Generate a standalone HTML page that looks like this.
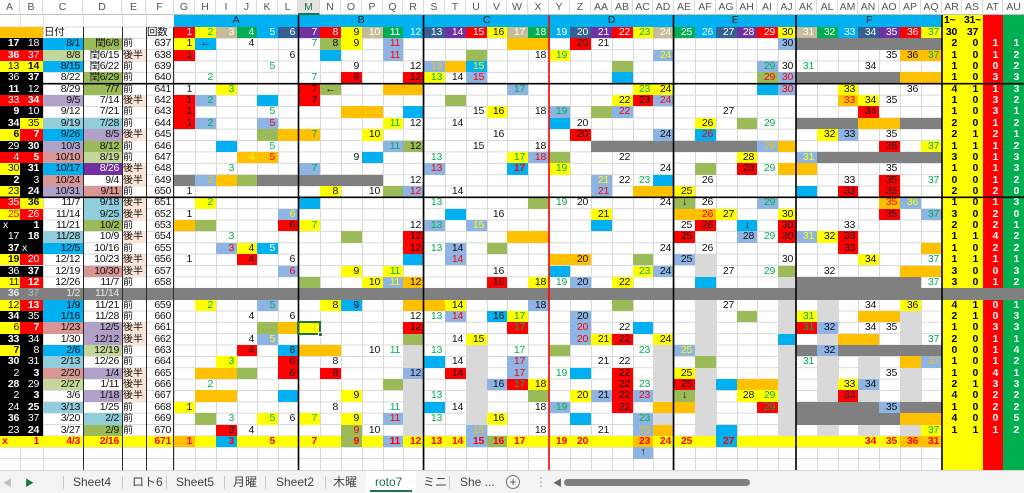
<!DOCTYPE html>
<html><head><meta charset="utf-8"><style>
*{margin:0;padding:0;box-sizing:border-box}
html,body{width:1024px;height:493px;overflow:hidden;background:#fff}
body{position:relative;font-family:"Liberation Sans","Noto Sans CJK JP",sans-serif}
.abs{position:absolute}
.row{position:absolute;left:0;width:1024px;height:11.36px}
.row i{position:absolute;top:0;height:100%;line-height:11.6px;font-style:normal;font-size:10.5px;letter-spacing:-0.3px;text-align:right;padding-right:3px;white-space:nowrap;overflow:hidden;color:#111;font-family:"Liberation Sans","Noto Sans CJK JP",sans-serif}
.xA{left:0;width:20px}.xB{left:20px;width:23px}.xC{left:43px;width:40px}.xD{left:83px;width:39px}.xE{left:122px;width:24px}.xF{left:146px;width:28px}
.xG{left:174px;width:21px}.xH{left:195px;width:21px}.xI{left:216px;width:21px}.xJ{left:237px;width:20px}.xK{left:257px;width:21px}.xL{left:278px;width:20px}
.xM{left:298px;width:22px}.xN{left:320px;width:21px}.xO{left:341px;width:21px}.xP{left:362px;width:21px}.xQ{left:383px;width:20px}.xR{left:403px;width:21px}
.xS{left:424px;width:21px}.xT{left:445px;width:21px}.xU{left:466px;width:21px}.xV{left:487px;width:20px}.xW{left:507px;width:21px}.xX{left:528px;width:21px}
.xY{left:549px;width:21px}.xZ{left:570px;width:21px}.xAA{left:591px;width:21px}.xAB{left:612px;width:21px}.xAC{left:633px;width:20px}.xAD{left:653px;width:21px}
.xAE{left:674px;width:21px}.xAF{left:695px;width:21px}.xAG{left:716px;width:21px}.xAH{left:737px;width:20px}.xAI{left:757px;width:21px}.xAJ{left:778px;width:18px}
.xAK{left:796px;width:21px}.xAL{left:817px;width:21px}.xAM{left:838px;width:20px}.xAN{left:858px;width:21px}.xAO{left:879px;width:21px}.xAP{left:900px;width:21px}.xAQ{left:921px;width:21px}
.xAR{left:942px;width:20px}.xAS{left:962px;width:21px}.xAT{left:983px;width:20px}.xAU{left:1003px;width:21px}
.row .xA{padding-right:1px}.row .xB{padding-right:4px}
.row .xE{text-align:left;padding:0 0 0 1px;font-size:10px;letter-spacing:0}
.row .c{text-align:center;padding:0}
.row .fR{background:#ff0000}.row .fY{background:#ffff00}.row .fO{background:#ffc000}.row .fG{background:#9bbb59}.row .fS{background:#00b0f0}.row .fL{background:#8db4e2}.row .fD{background:#808080}.row .fW{background:#d9d9d9}.row .fK{background:#000}.row .fT{background:#c4bd97}.row .fDG{background:#00b050}.row .fSL{background:#366092}.row .fP{background:#7030a0}.row .fLP{background:#b1a0c7}.row .fRO{background:#da9694}.row .fLG{background:#c4d79b}.row .fTE{background:#92cddc}.row .fPE{background:#fce4d6}
.row .tg{color:#00b050}.row .tr{color:#ff0000}.row .to{color:#ffc000}.row .ty{color:#ffff00}.row .tw{color:#fff}.row .b{font-weight:bold}
.row .xAR,.row .xAS{font-weight:bold;padding-right:5px;color:#000}.row .xAT,.row .xAU{font-weight:bold;color:#fff;padding-right:5px}
.hd{position:absolute;top:0;left:0;width:1024px;height:15px;background:#fff;border-bottom:1px solid #c0c0c0}
.hd i{position:absolute;top:0;height:15px;line-height:15px;font-style:normal;font-size:10.5px;color:#555;text-align:center;border-right:1px solid #dadada}
.tab{position:absolute;top:470px;left:0;width:1024px;height:23px;background:#f3f3f3;border-top:1px solid #d4d4d4;font-size:12px;color:#444}
.tab span{position:absolute;top:4px;line-height:15px;white-space:nowrap;font-family:"Liberation Sans","Noto Sans CJK JP",sans-serif}
.tab b{position:absolute;top:5px;width:1px;height:13px;background:#c8c8c8}
</style></head><body>

<!-- right colored stripes -->
<div class="abs" style="left:942px;top:15px;width:41px;height:455px;background:#ffff00"></div>
<div class="abs" style="left:983px;top:15px;width:20px;height:455px;background:#ff0000"></div>
<div class="abs" style="left:1003px;top:15px;width:21px;height:455px;background:#00b050"></div>

<!-- gridlines -->
<svg class="abs" style="left:0;top:0" width="1024" height="493">
<path fill="none" stroke="#d9d9d9" stroke-width="1" d="M20.5 15V470M43.5 15V470M83.5 15V470M122.5 15V470M146.5 15V470M174.5 15V470M195.5 15V470M216.5 15V470M237.5 15V470M257.5 15V470M278.5 15V470M298.5 15V470M320.5 15V470M341.5 15V470M362.5 15V470M383.5 15V470M403.5 15V470M424.5 15V470M445.5 15V470M466.5 15V470M487.5 15V470M507.5 15V470M528.5 15V470M549.5 15V470M570.5 15V470M591.5 15V470M612.5 15V470M633.5 15V470M653.5 15V470M674.5 15V470M695.5 15V470M716.5 15V470M737.5 15V470M757.5 15V470M778.5 15V470M796.5 15V470M817.5 15V470M838.5 15V470M858.5 15V470M879.5 15V470M900.5 15V470M921.5 15V470
M0 27H942M0 38.3H942M0 49.66H942M0 61.02H942M0 72.38H942M0 83.74H942M0 95.1H942M0 106.46H942M0 117.82H942M0 129.18H942M0 140.54H942M0 151.9H942M0 163.26H942M0 174.62H942M0 185.98H942M0 197.34H942M0 208.7H942M0 220.06H942M0 231.42H942M0 242.78H942M0 254.14H942M0 265.5H942M0 276.86H942M0 288.22H942M0 299.58H942M0 310.94H942M0 322.3H942M0 333.66H942M0 345.02H942M0 356.38H942M0 367.74H942M0 379.1H942M0 390.46H942M0 401.82H942M0 413.18H942M0 424.54H942M0 435.9H942M0 447.26H942M0 458.62H942"/>
</svg>

<!-- header row 1 -->
<div class="row" style="top:15px;height:12px">
<i class="fS" style="left:174px;width:768px"></i>
<i class="c" style="left:174px;width:124px;color:#222">A</i><i class="c" style="left:298px;width:126px;color:#222">B</i><i class="c" style="left:424px;width:125px;color:#222">C</i><i class="c" style="left:549px;width:125px;color:#222">D</i><i class="c" style="left:674px;width:122px;color:#222">E</i><i class="c" style="left:796px;width:146px;color:#222">F</i>
<i class="xAR" style="text-align:left;padding-left:2px">1~</i><i class="xAS" style="text-align:left;padding-left:2px">31~</i>
</div>
<!-- header row 2 -->
<div class="row" style="top:27px;height:11.3px">
<i class="fO" style="left:0;width:43px"></i>
<i class="xC" style="text-align:left;padding-left:1px;font-size:10.5px">日付</i><i class="xF" style="text-align:left;padding-left:1px;font-size:10.5px">回数</i>
<i class="xG fR tw">1</i><i class="xH fY tg">2</i><i class="xI fT tw">3</i><i class="xJ fDG tw">4</i><i class="xK fS tw">5</i><i class="xL fSL tw">6</i>
<i class="xM fP tw">7</i><i class="xN fR tw">8</i><i class="xO fY">9</i><i class="xP fT tw">10</i><i class="xQ fDG tw">11</i><i class="xR fS tw">12</i>
<i class="xS fSL tw">13</i><i class="xT fP tw">14</i><i class="xU fR tw">15</i><i class="xV fY">16</i><i class="xW fT tw">17</i><i class="xX fDG tw">18</i>
<i class="xY fS tw">19</i><i class="xZ fSL tw">20</i><i class="xAA fP tw">21</i><i class="xAB fR tw">22</i><i class="xAC fY tg">23</i><i class="xAD fT tw">24</i>
<i class="xAE fDG tw">25</i><i class="xAF fS tw">26</i><i class="xAG fSL tw">27</i><i class="xAH fP tw">28</i><i class="xAI fR tw">29</i><i class="xAJ fY">30</i>
<i class="xAK fT tw">31</i><i class="xAL fDG tw">32</i><i class="xAM fS tw">33</i><i class="xAN fSL tw">34</i><i class="xAO fP tw">35</i><i class="xAP fR tw">36</i><i class="xAQ fY tg">37</i>
<i class="xAR">30</i><i class="xAS">37</i>
</div>

<!-- 637 -->
<div class="row" style="top:38.3px">
<i class="xA fK tw b">17</i><i class="xB fK tw">18</i><i class="xC fS">8/1</i><i class="xD fG">閏6/8</i><i class="xE">前</i><i class="xF">637</i>
<i class="xG fY">1</i><i class="xH fS c">←</i><i class="xJ">4</i><i class="xM tg">7</i><i class="xN fG">8</i><i class="xO fY">9</i><i class="xQ fL tr">11</i>
<i class="fO" style="left:507px;width:42px"></i><i class="xZ fR">20</i><i class="xAA">21</i><i class="xAJ fL">30</i><i class="fD" style="left:796px;width:146px"></i>
<i class="xAR">2</i><i class="xAS">0</i><i class="xAT">1</i><i class="xAU">1</i>
</div>
<!-- 638 -->
<div class="row" style="top:49.66px">
<i class="xA fR tw b">36</i><i class="xB fR tw">37</i><i class="xC fLG">8/8</i><i class="xD">閏6/15</i><i class="xE fPE">後半</i><i class="xF">638</i>
<i class="xG fR">1</i><i class="xL">6</i><i class="xN fS"></i><i class="xQ fL tr">11</i><i class="xU fG"></i><i class="xX">18</i><i class="xY fY tg">19</i><i class="xAD fL ty">24</i>
<i class="xAO">35</i><i class="xAP fO">36</i><i class="xAQ fO tg">37</i>
<i class="xAR">1</i><i class="xAS">0</i><i class="xAT">1</i><i class="xAU">2</i>
</div>
<!-- 639 -->
<div class="row" style="top:61.02px">
<i class="xA fY">13</i><i class="xB fY b">14</i><i class="xC fS">8/15</i><i class="xD">閏6/22</i><i class="xE">前</i><i class="xF">639</i>
<i class="xK tg">5</i><i class="xO">9</i><i class="xR">12</i><i class="xS fL to">13</i><i class="xT fO"></i><i class="xU fS ty">15</i><i class="xAB fG"></i>
<i class="xAI fL tg">29</i><i class="xAJ">30</i><i class="xAK tg">31</i><i class="xAN">34</i>
<i class="xAR">1</i><i class="xAS">0</i><i class="xAT">0</i><i class="xAU">2</i>
</div>
<!-- 640 -->
<div class="row" style="top:72.38px">
<i class="xA fK tw">36</i><i class="xB fK tw b">37</i><i class="xC">8/22</i><i class="xD fG">閏6/29</i><i class="xE">前</i><i class="xF">640</i>
<i class="xH tg">2</i><i class="xM tg">7</i><i class="xO fR">9</i><i class="xR fR">12</i><i class="xS fY tg">13</i><i class="xT">14</i><i class="xU fL tr">15</i><i class="xAB fS"></i>
<i class="xAI fG tr">29</i><i class="xAJ fL tr">30</i><i class="fD" style="left:796px;width:104px"></i><i class="fO" style="left:900px;width:42px"></i>
<i class="xAR">1</i><i class="xAS">0</i><i class="xAT">3</i><i class="xAU">3</i>
</div>
<!-- 641 -->
<div class="row" style="top:83.74px">
<i class="xA fK tw b">11</i><i class="xB fK tw">12</i><i class="xC">8/29</i><i class="xD fG">7/7</i><i class="xE">前</i><i class="xF">641</i>
<i class="xG">1</i><i class="xI fY tg">3</i><i class="xM fR">7</i><i class="xN fG c">←</i><i class="fO" style="left:383px;width:41px"></i><i class="xW fL tg">17</i>
<i class="xAC fY tg">23</i><i class="xAD fY">24</i><i class="xAI fS"></i><i class="xAJ fL tr">30</i><i class="xAM fY">33</i><i class="xAP">36</i>
<i class="xAR">4</i><i class="xAS">1</i><i class="xAT">1</i><i class="xAU">3</i>
</div>
<!-- 642 -->
<div class="row" style="top:95.1px">
<i class="xA fR tw">33</i><i class="xB fR tw b">34</i><i class="xC fLP">9/5</i><i class="xD">7/14</i><i class="xE fPE">後半</i><i class="xF">642</i>
<i class="xG fR">1</i><i class="xH fL tg">2</i><i class="xK fS"></i><i class="xM fR">7</i><i class="xT fG"></i><i class="xAB fY">22</i><i class="xAC fR">23</i><i class="xAD fL tr">24</i>
<i class="xAM fO tr">33</i><i class="xAN fY">34</i><i class="xAO">35</i>
<i class="xAR">1</i><i class="xAS">0</i><i class="xAT">3</i><i class="xAU">2</i>
</div>
<!-- 643 -->
<div class="row" style="top:106.46px">
<i class="xA fK tw b">9</i><i class="xB fK tw">10</i><i class="xC">9/12</i><i class="xD">7/21</i><i class="xE">前</i><i class="xF">643</i>
<i class="xG fR">1</i><i class="xK tg">5</i><i class="fO" style="left:341px;width:42px"></i><i class="xR fS"></i><i class="xU">15</i><i class="xV fY">16</i><i class="xX">18</i>
<i class="xY fL tg">19</i><i class="xAA fG"></i><i class="xAB fL tr">22</i><i class="xAG">27</i><i class="xAN fR">34</i>
<i class="xAR">1</i><i class="xAS">0</i><i class="xAT">3</i><i class="xAU">1</i>
</div>
<!-- 644 -->
<div class="row" style="top:117.82px">
<i class="xA fK tw b">34</i><i class="xB fY">35</i><i class="xC fTE">9/19</i><i class="xD fTE">7/28</i><i class="xE">前</i><i class="xF">644</i>
<i class="xG fR">1</i><i class="xH fL tg">2</i><i class="xK fL tr">5</i><i class="xQ fY tg">11</i><i class="xR">12</i><i class="xT">14</i><i class="xY fS"></i><i class="xZ">20</i>
<i class="xAF fY">26</i><i class="xAH fG"></i><i class="xAI tg">29</i><i class="fD" style="left:796px;width:62px"></i><i class="fO" style="left:858px;width:42px"></i><i class="fD" style="left:900px;width:42px"></i>
<i class="xAR">2</i><i class="xAS">0</i><i class="xAT">1</i><i class="xAU">2</i>
</div>
<!-- 645 -->
<div class="row" style="top:129.18px">
<i class="xA fY b">6</i><i class="xB fR tw b">7</i><i class="xC fS">9/26</i><i class="xD fLP">8/5</i><i class="xE fPE">後半</i><i class="xF">645</i>
<i class="xK fG"></i><i class="xL fO"></i><i class="xM fO tg">7</i><i class="xP fY">10</i><i class="xV">16</i><i class="xZ fR">20</i><i class="xAD fL">24</i><i class="xAF fS tr">26</i>
<i class="xAL fY">32</i><i class="xAM fL">33</i><i class="xAO">35</i>
<i class="xAR">2</i><i class="xAS">1</i><i class="xAT">2</i><i class="xAU">1</i>
</div>
<!-- 646 -->
<div class="row" style="top:140.54px">
<i class="xA fK tw">29</i><i class="xB fK tw b">30</i><i class="xC fLP">10/3</i><i class="xD fG">8/12</i><i class="xE">前</i><i class="xF">646</i>
<i class="xI fS"></i><i class="xK tg">5</i><i class="xQ fL tg">11</i><i class="xR fG">12</i><i class="xU">15</i><i class="xX">18</i><i class="fD" style="left:591px;width:166px"></i>
<i class="xAI fL to">29</i><i class="xAJ fO"></i><i class="xAO fR">35</i><i class="xAQ fY tg">37</i>
<i class="xAR">1</i><i class="xAS">1</i><i class="xAT">1</i><i class="xAU">2</i>
</div>
<!-- 647 -->
<div class="row" style="top:151.9px">
<i class="xA fR tw">4</i><i class="xB fR tw b">5</i><i class="xC fRO">10/10</i><i class="xD fLG">8/19</i><i class="xE">前</i><i class="xF">647</i>
<i class="xJ fO ty">4</i><i class="xK fO tr">5</i><i class="xO">9</i><i class="xP fS"></i><i class="xS tg">13</i><i class="xW fY tg">17</i><i class="xX fL tr">18</i><i class="xY fG"></i><i class="xAB">22</i>
<i class="xAH fY">28</i><i class="xAK fL ty">31</i><i class="fD" style="left:817px;width:125px"></i>
<i class="xAR">3</i><i class="xAS">0</i><i class="xAT">1</i><i class="xAU">3</i>
</div>
<!-- 648 -->
<div class="row" style="top:163.26px">
<i class="xA fY">30</i><i class="xB fK tw b">31</i><i class="xC fS">10/17</i><i class="xD fP tw">8/26</i><i class="xE fPE">後半</i><i class="xF">648</i>
<i class="xI tg">3</i><i class="xM fL tg">7</i><i class="xS fL tr">13</i><i class="xW fS tr b">17</i><i class="xY fY tg">19</i><i class="xAD">24</i><i class="xAF fG"></i><i class="xAH fR">28</i><i class="xAI tg">29</i>
<i class="xAJ fO"></i><i class="xAK fO"></i><i class="xAO">35</i>
<i class="xAR">1</i><i class="xAS">0</i><i class="xAT">1</i><i class="xAU">3</i>
</div>
<!-- 649 -->
<div class="row" style="top:174.62px">
<i class="xA fK tw b">2</i><i class="xB fK tw">3</i><i class="xC fRO">10/24</i><i class="xD">9/4</i><i class="xE fPE">後半</i><i class="xF">649</i>
<i class="xG fD"></i><i class="xH fL to">2</i><i class="xI fO"></i><i class="xJ fG"></i><i class="fD" style="left:257px;width:126px"></i><i class="xR">12</i>
<i class="xAA fL ty">21</i><i class="xAB">22</i><i class="xAC tg">23</i><i class="xAD fS"></i><i class="xAF">26</i><i class="xAM">33</i><i class="xAO fR">35</i><i class="xAQ tg">37</i>
<i class="xAR">0</i><i class="xAS">0</i><i class="xAT">1</i><i class="xAU">2</i>
</div>
<!-- 650 -->
<div class="row" style="top:185.98px">
<i class="xA fY">23</i><i class="xB fK tw b">24</i><i class="xC fLP">10/31</i><i class="xD fRO">9/11</i><i class="xE">前</i><i class="xF">650</i>
<i class="xG">1</i><i class="xN fY">8</i><i class="xP">10</i><i class="xQ fG"></i><i class="xR fL tr">12</i><i class="xT">14</i><i class="xAA fL tr">21</i><i class="fO" style="left:633px;width:41px"></i><i class="xAE fY">25</i>
<i class="xAK fS"></i><i class="xAM fR">33</i><i class="xAO fR">35</i>
<i class="xAR">2</i><i class="xAS">0</i><i class="xAT">2</i><i class="xAU">0</i>
</div>
<!-- 651 -->
<div class="row" style="top:197.34px">
<i class="xA fR tw">35</i><i class="xB fY b">36</i><i class="xC">11/7</i><i class="xD fTE">9/18</i><i class="xE fPE">後半</i><i class="xF">651</i>
<i class="xH fY tg">2</i><i class="xM fS"></i><i class="xS tg">13</i><i class="xX fG"></i><i class="xY tg">19</i><i class="xZ">20</i><i class="xAD">24</i><i class="xAE fG c">↓</i><i class="xAF">26</i>
<i class="xAI fL tg">29</i><i class="xAO fO tr">35</i><i class="xAP fL ty">36</i>
<i class="xAR">1</i><i class="xAS">0</i><i class="xAT">1</i><i class="xAU">3</i>
</div>
<!-- 652 -->
<div class="row" style="top:208.7px">
<i class="xA fY tr">25</i><i class="xB fR tw">26</i><i class="xC">11/14</i><i class="xD fTE">9/25</i><i class="xE fPE">後半</i><i class="xF">652</i>
<i class="xG">1</i><i class="xL fL ty">6</i><i class="xT fS"></i><i class="xV">16</i><i class="xAA fY">21</i><i class="xAE fO"></i><i class="xAF fO tr">26</i><i class="xAG fY">27</i><i class="xAJ fY">30</i>
<i class="xAO fR">35</i><i class="xAQ fL tg">37</i>
<i class="xAR">3</i><i class="xAS">0</i><i class="xAT">2</i><i class="xAU">0</i>
</div>
<!-- 653 -->
<div class="row" style="top:220.06px">
<i class="xA fK tw" style="text-align:left;padding-left:3px">x</i><i class="xB fK tw b">1</i><i class="xC">11/21</i><i class="xD fG">10/2</i><i class="xE">前</i><i class="xF">653</i>
<i class="xG fO"></i><i class="xH fG"></i><i class="xL fR">6</i><i class="xM fY tg">7</i><i class="xR">12</i><i class="xS fL tg">13</i><i class="xU fL ty">15</i><i class="xAA fS"></i>
<i class="xAE">25</i><i class="xAF fR">26</i><i class="xAH fS c">↓</i><i class="xAJ fR">30</i><i class="xAM">33</i>
<i class="xAR">2</i><i class="xAS">0</i><i class="xAT">2</i><i class="xAU">1</i>
</div>
<!-- 654 -->
<div class="row" style="top:231.42px">
<i class="xA fK tw">17</i><i class="xB fK tw b">18</i><i class="xC fTE">11/28</i><i class="xD">10/9</i><i class="xE fPE">後半</i><i class="xF">654</i>
<i class="xI tg">3</i><i class="xO fG"></i><i class="xR fR">12</i><i class="fO" style="left:507px;width:42px"></i>
<i class="xAE fR">25</i><i class="xAH fL">28</i><i class="xAI tg">29</i><i class="xAJ fR">30</i><i class="xAK fL ty">31</i><i class="xAL fY">32</i><i class="xAM fR">33</i>
<i class="xAR">1</i><i class="xAS">1</i><i class="xAT">4</i><i class="xAU">2</i>
</div>
<!-- 655 -->
<div class="row" style="top:242.78px">
<i class="xA fK tw b">37</i><i class="xB fK tw" style="text-align:left;padding-left:2px">x</i><i class="xC fS">12/5</i><i class="xD">10/16</i><i class="xE">前</i><i class="xF">655</i>
<i class="xI fL tr">3</i><i class="xJ fY">4</i><i class="xK fS tw">5</i><i class="xR fR">12</i><i class="xS tg">13</i><i class="xT fL">14</i><i class="xV fG"></i>
<i class="xAD">24</i><i class="xAF">26</i><i class="xAM fR">33</i><i class="xAQ fO"></i>
<i class="xAR">1</i><i class="xAS">0</i><i class="xAT">2</i><i class="xAU">2</i>
</div>
<!-- 656 -->
<div class="row" style="top:254.14px">
<i class="xA fY b">19</i><i class="xB fR tw">20</i><i class="xC">12/12</i><i class="xD">10/23</i><i class="xE fPE">後半</i><i class="xF">656</i>
<i class="xG">1</i><i class="xJ fR">4</i><i class="xL">6</i><i class="xR fS"></i><i class="xT fL tr">14</i><i class="xY fO"></i><i class="xZ fO">20</i><i class="xAC fG"></i>
<i class="xAE fL">25</i><i class="xAF fW"></i><i class="xAJ">30</i><i class="xAN fY">34</i><i class="xAQ tg">37</i>
<i class="xAR">1</i><i class="xAS">1</i><i class="xAT">1</i><i class="xAU">1</i>
</div>
<!-- 657 -->
<div class="row" style="top:265.5px">
<i class="xA fK tw">36</i><i class="xB fK tw b">37</i><i class="xC">12/19</i><i class="xD fRO">10/30</i><i class="xE fPE">後半</i><i class="xF">657</i>
<i class="xL fL tr">6</i><i class="xO fY">9</i><i class="xQ fY tg">11</i><i class="xV">16</i><i class="xY fS"></i><i class="xAC fY tg">23</i><i class="xAD fL">24</i>
<i class="xAF fW"></i><i class="xAG">27</i><i class="xAI tg">29</i><i class="xAJ fG"></i><i class="xAL">32</i><i class="fO" style="left:900px;width:42px"></i>
<i class="xAR">3</i><i class="xAS">0</i><i class="xAT">0</i><i class="xAU">3</i>
</div>
<!-- 658 -->
<div class="row" style="top:276.86px">
<i class="xA fY">11</i><i class="xB fR tw b">12</i><i class="xC">12/26</i><i class="xD">11/7</i><i class="xE">前</i><i class="xF">658</i>
<i class="xM fG"></i><i class="xP fY">10</i><i class="xQ fL ty">11</i><i class="xR fO">12</i><i class="xV fR">16</i><i class="xX fY">18</i><i class="xY tg">19</i><i class="xZ fL">20</i><i class="xAB fY">22</i>
<i class="xAF fS"></i><i class="xAJ fW"></i><i class="fD" style="left:796px;width:125px"></i><i class="xAQ tg">37</i>
<i class="xAR">3</i><i class="xAS">0</i><i class="xAT">1</i><i class="xAU">2</i>
</div>
<!-- grey row -->
<div class="row" style="top:288.22px;background:#808080">
<i class="xA b" style="color:#e6e6e6">36</i><i class="xB" style="color:#bdbdbd">37</i><i class="xC" style="color:#e6e6e6">1/2</i><i class="xD" style="color:#e6e6e6">11/14</i>
</div>
<!-- 659 -->
<div class="row" style="top:299.58px">
<i class="xA fY">12</i><i class="xB fR tw b">13</i><i class="xC fS">1/9</i><i class="xD">11/21</i><i class="xE">前</i><i class="xF">659</i>
<i class="xH fY tg">2</i><i class="xK fL tg">5</i><i class="xN fY">8</i><i class="xO fS">9</i><i class="fO" style="left:403px;width:42px"></i><i class="xT fY">14</i><i class="xX fL">18</i><i class="xAB fG"></i>
<i class="xAF fW"></i><i class="xAG">27</i><i class="xAJ fW"></i><i class="xAL fW"></i><i class="xAN">34</i><i class="xAP fY">36</i>
<i class="xAR">4</i><i class="xAS">1</i><i class="xAT">0</i><i class="xAU">1</i>
</div>
<!-- 660 -->
<div class="row" style="top:310.94px">
<i class="xA fK tw b">34</i><i class="xB fK tw">35</i><i class="xC fS">1/16</i><i class="xD">11/28</i><i class="xE">前</i><i class="xF">660</i>
<i class="xJ">4</i><i class="xL">6</i><i class="xR">12</i><i class="xS tg">13</i><i class="xT fL tr">14</i><i class="xV fS">16</i><i class="xW fY tg">17</i><i class="xZ fL">20</i>
<i class="xAF fW"></i><i class="xAH fG"></i><i class="xAJ fW"></i><i class="xAK fY tg">31</i><i class="xAL fW"></i><i class="fO" style="left:858px;width:42px"></i><i class="xAP fW"></i>
<i class="xAR">2</i><i class="xAS">1</i><i class="xAT">0</i><i class="xAU">3</i>
</div>
<!-- 661 -->
<div class="row" style="top:322.3px">
<i class="xA fY">6</i><i class="xB fR tw b">7</i><i class="xC fRO">1/23</i><i class="xD fLP">12/5</i><i class="xE fPE">後半</i><i class="xF">661</i>
<i class="xK fG"></i><i class="xL fO"></i><i class="xM fY to">7</i><i class="xR fR">12</i><i class="xW fR tg">17</i><i class="xZ fL tr">20</i><i class="xAB">22</i><i class="xAC fS"></i>
<i class="xAF fW"></i><i class="xAJ fW"></i><i class="xAK fR tg">31</i><i class="xAL fL">32</i><i class="xAN">34</i><i class="xAO">35</i><i class="xAP fW"></i>
<i class="xAR">1</i><i class="xAS">0</i><i class="xAT">3</i><i class="xAU">3</i>
</div>
<!-- 662 -->
<div class="row" style="top:333.66px">
<i class="xA fK tw b">33</i><i class="xB fK tw">34</i><i class="xC">1/30</i><i class="xD fLP">12/12</i><i class="xE fPE">後半</i><i class="xF">662</i>
<i class="xJ">4</i><i class="xK fL ty">5</i><i class="xR fG"></i><i class="xT">14</i><i class="xU fY">15</i><i class="xZ fL tr">20</i><i class="xAA fY">21</i><i class="xAB fR">22</i><i class="xAD fY">24</i>
<i class="xAF fW"></i><i class="xAJ fS"></i><i class="xAL fW"></i><i class="fO" style="left:838px;width:41px"></i><i class="xAP fW"></i><i class="xAQ tg">37</i>
<i class="xAR">2</i><i class="xAS">0</i><i class="xAT">1</i><i class="xAU">1</i>
</div>
<!-- 663 -->
<div class="row" style="top:345.02px">
<i class="xA fY b">7</i><i class="xB fK tw">8</i><i class="xC fS">2/6</i><i class="xD fLG">12/19</i><i class="xE">前</i><i class="xF">663</i>
<i class="xJ fR">4</i><i class="xL fS">6</i><i class="fO" style="left:298px;width:43px"></i><i class="xP">10</i><i class="xQ tg">11</i><i class="xR fW"></i><i class="xS tg">13</i><i class="xU fW"></i><i class="xW tg">17</i><i class="xY fG"></i><i class="xAC tg">23</i>
<i class="xAD fW"></i><i class="xAE fL ty">25</i><i class="xAF fW"></i><i class="xAJ fW"></i><i class="xAK fD"></i><i class="xAL fL">32</i><i class="fD" style="left:838px;width:104px"></i>
<i class="xAR">0</i><i class="xAS">0</i><i class="xAT">1</i><i class="xAU">4</i>
</div>
<!-- 664 -->
<div class="row" style="top:356.38px">
<i class="xA fK tw b">30</i><i class="xB fK tw">31</i><i class="xC fTE">2/13</i><i class="xD">12/26</i><i class="xE">前</i><i class="xF">664</i>
<i class="xI fY tg">3</i><i class="xL fR">6</i><i class="xN">8</i><i class="xR fW"></i><i class="xS fS"></i><i class="xT">14</i><i class="xU fW"></i><i class="xW fL tr">17</i><i class="xAA">21</i><i class="xAB">22</i>
<i class="xAD fW"></i><i class="xAF fG"></i><i class="xAJ fW"></i><i class="xAK tg">31</i><i class="xAL fW"></i><i class="xAN fW"></i><i class="xAP fO"></i><i class="xAQ fL to">37</i>
<i class="xAR">1</i><i class="xAS">0</i><i class="xAT">1</i><i class="xAU">2</i>
</div>
<!-- 665 -->
<div class="row" style="top:367.74px">
<i class="xA fK tw">2</i><i class="xB fK tw b">3</i><i class="xC fRO">2/20</i><i class="xD fLP">1/4</i><i class="xE fPE">後半</i><i class="xF">665</i>
<i class="fO" style="left:195px;width:42px"></i><i class="xJ fG"></i><i class="xL fR">6</i><i class="xN fR">8</i><i class="xR fL">12</i><i class="xT fR">14</i><i class="xU fW"></i><i class="xW fL tr">17</i><i class="xY tg">19</i><i class="xZ fS"></i><i class="xAB fR">22</i>
<i class="xAD fW"></i><i class="xAE fY">25</i><i class="xAF fW"></i><i class="xAJ fW"></i><i class="xAL fW"></i><i class="xAN fW"></i><i class="xAO">35</i><i class="xAP fW"></i>
<i class="xAR">1</i><i class="xAS">0</i><i class="xAT">4</i><i class="xAU">1</i>
</div>
<!-- 666 -->
<div class="row" style="top:379.1px">
<i class="xA fK tw b">28</i><i class="xB fK tw">29</i><i class="xC fLG">2/27</i><i class="xD">1/11</i><i class="xE fPE">後半</i><i class="xF">666</i>
<i class="xH tg">2</i><i class="xQ fG"></i><i class="xR fW"></i><i class="xU fW"></i><i class="xV fL">16</i><i class="xW fR tg">17</i><i class="xX fY">18</i><i class="xAB fR">22</i><i class="xAC tg">23</i>
<i class="xAD fW"></i><i class="xAE fR">25</i><i class="xAF fW"></i><i class="xAG fS"></i><i class="fO" style="left:737px;width:41px"></i><i class="xAJ fW"></i><i class="xAL fW"></i><i class="xAM fY">33</i><i class="xAN fL">34</i><i class="xAP fW"></i>
<i class="xAR">2</i><i class="xAS">1</i><i class="xAT">3</i><i class="xAU">3</i>
</div>
<!-- 667 -->
<div class="row" style="top:390.46px">
<i class="xA fK tw">2</i><i class="xB fK tw b">3</i><i class="xC">3/6</i><i class="xD fLP">1/18</i><i class="xE fPE">後半</i><i class="xF">667</i>
<i class="fO" style="left:195px;width:42px"></i><i class="xL fS"></i><i class="xO fY">9</i><i class="xR fW"></i><i class="xS tg">13</i><i class="xU fW"></i><i class="xX fG"></i><i class="xZ fY">20</i><i class="xAA fL">21</i><i class="xAB fR">22</i><i class="xAC fL tr">23</i>
<i class="xAD fW"></i><i class="xAE fG c">↓</i><i class="xAF fW"></i><i class="xAH fY">28</i><i class="xAI fY tg">29</i><i class="xAJ fW"></i><i class="xAL fW"></i><i class="xAM fR">33</i><i class="xAN fW"></i><i class="xAP fW"></i>
<i class="xAR">4</i><i class="xAS">0</i><i class="xAT">2</i><i class="xAU">2</i>
</div>
<!-- 668 -->
<div class="row" style="top:401.82px">
<i class="xA fK tw">24</i><i class="xB fK tw b">25</i><i class="xC fTE">3/13</i><i class="xD">1/25</i><i class="xE">前</i><i class="xF">668</i>
<i class="xG fY">1</i><i class="xN">8</i><i class="xQ tg">11</i><i class="xR fW"></i><i class="xS fS"></i><i class="xT">14</i><i class="xU fW"></i><i class="xX">18</i><i class="xY fL tg">19</i><i class="xAB fR">22</i>
<i class="xAD fO"></i><i class="xAE fO"></i><i class="xAF fW"></i><i class="xAI fR tg">29</i><i class="xAJ fW"></i><i class="fD" style="left:796px;width:83px"></i><i class="xAO fL">35</i><i class="fD" style="left:900px;width:42px"></i>
<i class="xAR">1</i><i class="xAS">0</i><i class="xAT">2</i><i class="xAU">2</i>
</div>
<!-- 669 -->
<div class="row" style="top:413.18px">
<i class="xA fK tw b">36</i><i class="xB fK tw">37</i><i class="xC">3/20</i><i class="xD fTE">2/2</i><i class="xE">前</i><i class="xF">669</i>
<i class="xH fG"></i><i class="xI tg">3</i><i class="xK fY tg">5</i><i class="xL">6</i><i class="xM fY tg">7</i><i class="xO fY">9</i><i class="xQ fL tr">11</i><i class="xR fW"></i><i class="xS tg">13</i><i class="xU fW"></i><i class="xV fY">16</i><i class="xZ fS"></i><i class="xAC fL tg">23</i>
<i class="xAD fW"></i><i class="xAF fW"></i><i class="xAJ fW"></i><i class="fD" style="left:796px;width:104px"></i><i class="fO" style="left:900px;width:42px"></i>
<i class="xAR">4</i><i class="xAS">0</i><i class="xAT">0</i><i class="xAU">5</i>
</div>
<!-- 670 -->
<div class="row" style="top:424.54px">
<i class="xA fK tw">23</i><i class="xB fK tw b">24</i><i class="xC">3/27</i><i class="xD fG">2/9</i><i class="xE">前</i><i class="xF">670</i>
<i class="xI fR">3</i><i class="xJ">4</i><i class="xO fG tr">9</i><i class="xP">10</i><i class="xR fW"></i><i class="xU fL to">15</i><i class="xX">18</i><i class="xAA">21</i><i class="xAC fL to">23</i>
<i class="xAD fO"></i><i class="xAF fW"></i><i class="xAG fS"></i><i class="xAJ fW"></i><i class="xAL fW"></i><i class="xAN fW"></i><i class="xAP fW"></i><i class="xAQ fY tg">37</i>
<i class="xAR">1</i><i class="xAS">1</i><i class="xAT">1</i><i class="xAU">2</i>
</div>
<!-- 671 -->
<div class="row" style="top:435.9px">
<i class="fY" style="left:0;width:942px"></i>
<i class="xA tr b" style="text-align:left;padding-left:2px">x</i><i class="xB tr b">1</i><i class="xC tr b">4/3</i><i class="xD tr b">2/16</i><i class="xF tr b">671</i>
<i class="xG fO tr b">1</i><i class="xI fS tr b">3</i><i class="xK tr b">5</i><i class="xM tr b">7</i><i class="xO fG tr b">9</i><i class="xQ fL tr b">11</i><i class="xR tr b">12</i><i class="xS tr b">13</i><i class="xT tr b">14</i><i class="xU fL tr b">15</i><i class="xV fG tr b">16</i><i class="xW tr b">17</i>
<i class="xY tr b">19</i><i class="xZ tr b">20</i><i class="xAC fO tr b">23</i><i class="xAD tr b">24</i><i class="xAE tr b">25</i><i class="xAG fS tr b">27</i><i class="xAN tr b">34</i><i class="xAO tr b">35</i><i class="xAP fO tr b">36</i><i class="xAQ fO tr b">31</i>
</div>
<!-- 672 -->
<div class="row" style="top:447.26px">
<i class="xAC fL c">↑</i>
</div>

<!-- heavy lines -->
<svg class="abs" style="left:0;top:0" width="1024" height="493">
<path fill="none" stroke="#2a2a2a" stroke-width="1" d="M83.5 27V470M122.5 27V470M146.5 27V470M173.5 27V470"/>
<path fill="none" stroke="#000" stroke-width="1.6" d="M298.5 15V470M423.5 15V470M673.5 15V470M796 15V470M942 15V470"/>
<path fill="none" stroke="#ff0000" stroke-width="1.6" d="M549 15V470"/>
<path fill="none" stroke="#000" stroke-width="1.6" d="M0 83.7H1024M0 197.3H1024"/>
</svg>

<!-- active cell -->
<div class="abs" style="left:297px;top:321.3px;width:24px;height:13.4px;border:2px solid #217346"></div>
<div class="abs" style="left:318px;top:331.5px;width:5px;height:5px;background:#217346;border:1px solid #fff"></div>

<!-- column header -->
<div class="hd">
<i style="left:0;width:20px">A</i><i style="left:20px;width:23px">B</i><i style="left:43px;width:40px">C</i><i style="left:83px;width:39px">D</i><i style="left:122px;width:24px">E</i><i style="left:146px;width:28px">F</i>
<i style="left:174px;width:21px">G</i><i style="left:195px;width:21px">H</i><i style="left:216px;width:21px">I</i><i style="left:237px;width:20px">J</i><i style="left:257px;width:21px">K</i><i style="left:278px;width:20px">L</i>
<i style="left:298px;width:22px;color:#217346;background:#e2e2e2;border-bottom:2px solid #217346">M</i><i style="left:320px;width:21px">N</i><i style="left:341px;width:21px">O</i><i style="left:362px;width:21px">P</i><i style="left:383px;width:20px">Q</i><i style="left:403px;width:21px">R</i>
<i style="left:424px;width:21px">S</i><i style="left:445px;width:21px">T</i><i style="left:466px;width:21px">U</i><i style="left:487px;width:20px">V</i><i style="left:507px;width:21px">W</i><i style="left:528px;width:21px">X</i>
<i style="left:549px;width:21px">Y</i><i style="left:570px;width:21px">Z</i><i style="left:591px;width:21px">AA</i><i style="left:612px;width:21px">AB</i><i style="left:633px;width:20px">AC</i><i style="left:653px;width:21px">AD</i>
<i style="left:674px;width:21px">AE</i><i style="left:695px;width:21px">AF</i><i style="left:716px;width:21px">AG</i><i style="left:737px;width:20px">AH</i><i style="left:757px;width:21px">AI</i><i style="left:778px;width:18px">AJ</i>
<i style="left:796px;width:21px">AK</i><i style="left:817px;width:21px">AL</i><i style="left:838px;width:20px">AM</i><i style="left:858px;width:21px">AN</i><i style="left:879px;width:21px">AO</i><i style="left:900px;width:21px">AP</i><i style="left:921px;width:21px">AQ</i>
<i style="left:942px;width:20px">AR</i><i style="left:962px;width:21px">AS</i><i style="left:983px;width:20px">AT</i><i style="left:1003px;width:21px;border-right:none">AU</i>
</div>

<!-- sheet tabs -->
<div class="tab">
<span style="left:3px;top:5px;font-size:9px;color:#bbb">◀</span>
<span style="left:25px;top:5px;font-size:9px;color:#217346">▶</span>
<b style="left:63px"></b>
<span style="left:73px">Sheet4</span>
<b style="left:122px"></b>
<span style="left:132px">ロト6</span>
<b style="left:166px"></b>
<span style="left:176px">Sheet5</span>
<b style="left:224px"></b>
<span style="left:233px">月曜</span>
<b style="left:265px"></b>
<span style="left:276px">Sheet2</span>
<b style="left:325px"></b>
<span style="left:333px">木曜</span>
<div class="abs" style="left:366px;top:0;width:50px;height:22px;background:#fff"></div>
<span style="left:375px;color:#217346">roto7</span>
<div class="abs" style="left:370px;top:19px;width:42px;height:2px;background:#217346"></div>
<span style="left:423px">ミニ</span>
<b style="left:449px"></b>
<span style="left:460px">She ...</span>
<div class="abs" style="left:506px;top:4px;width:14px;height:14px;border:1px solid #777;border-radius:50%;font-size:12px;line-height:12px;text-align:center;color:#555">+</div>
<span style="left:535px;color:#999">⋮</span>
<span style="left:553px;top:5px;font-size:9px;color:#666">◀</span>
<div class="abs" style="left:564px;top:8px;width:186px;height:7px;background:#808080;border-radius:4px"></div>
</div>
</body></html>
